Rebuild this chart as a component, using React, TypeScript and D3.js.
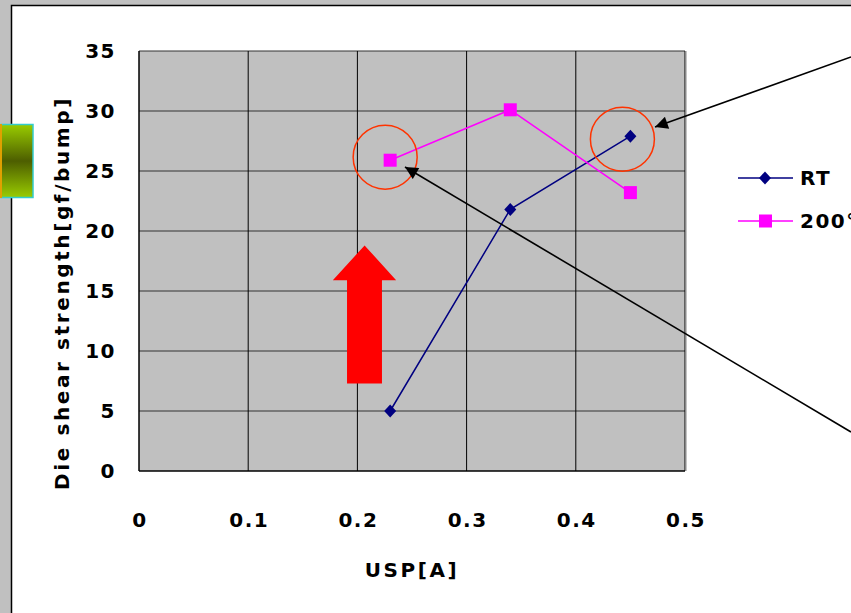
import * as d3 from "d3";
import React from "react";

const usp = [0.23, 0.34, 0.45];
const rtValues = [5, 21.8, 27.9];
const hotValues = [25.9, 30.1, 23.2];
const xTicks = [0, 0.1, 0.2, 0.3, 0.4, 0.5];
const yTicks = [0, 5, 10, 15, 20, 25, 30, 35];
const seriesNames = ["RT", "200℃"];

const W = 851;
const H = 613;
const FONT = "'DejaVu Sans', Verdana, sans-serif";

export default function App() {
  const x = d3.scaleLinear().domain([0, 0.5]).range([139, 685]);
  const y = d3.scaleLinear().domain([0, 35]).range([471, 51]);

  const rt = usp.map((u, i) => [u, rtValues[i]] as [number, number]);
  const hot = usp.map((u, i) => [u, hotValues[i]] as [number, number]);
  const line = d3.line<[number, number]>().x(d => x(d[0])).y(d => y(d[1]));

  const diamond = "M0,-6.5 L6,0 L0,6.5 L-6,0 Z";

  // callouts pointing at the circled points
  const circled = [
    {cx: x(usp[0]) - 5, cy: y(hotValues[0]) - 3, from: [851, 432], to: [405, 167]},
    {cx: x(usp[2]) - 8, cy: y(rtValues[2]) + 3, from: [851, 57], to: [655, 127]},
  ];

  const txt = {fontFamily: FONT, fontWeight: "bold" as const, fontSize: 20, letterSpacing: 1.5};
  const title = {...txt, letterSpacing: 2.6};

  return (
    <svg width={W} height={H} style={{position: "absolute", left: 0, top: 0}}>
      <defs>
        <linearGradient id="grn" x1="0" y1="0" x2="0" y2="1">
          <stop offset="0" stopColor="#99cc00" />
          <stop offset="0.5" stopColor="#4d5e00" />
          <stop offset="1" stopColor="#99cc00" />
        </linearGradient>
        <marker id="ah" viewBox="0 0 10 10" refX="10" refY="5" markerWidth="9" markerHeight="8" orient="auto">
          <path d="M0,0 L10,5 L0,10 z" fill="#000" />
        </marker>
      </defs>
      <rect x={0} y={0} width={W} height={H} fill="#c0c0c0" />
      <rect x={11.5} y={5.5} width={W + 10} height={H + 10} fill="#fff" stroke="#000" strokeWidth={1.5} />
      <rect x={1} y={124.5} width={32} height={73} fill="url(#grn)" stroke="#33cccc" strokeWidth={1.5} />
      <rect x={0} y={124} width={2} height={74} fill="#e0a000" />

      <rect x={x(0)} y={y(35)} width={x(0.5) - x(0)} height={y(0) - y(35)} fill="#c0c0c0" />
      {yTicks.slice(1).map(t => (
        <line key={"gy" + t} x1={x(0)} x2={x(0.5)} y1={y(t)} y2={y(t)} stroke="#333" strokeWidth={1} />
      ))}
      {xTicks.slice(1).map(t => (
        <line key={"gx" + t} x1={x(t)} x2={x(t)} y1={y(0)} y2={y(35)} stroke="#000" strokeWidth={1} />
      ))}
      <line x1={x(0)} x2={x(0)} y1={y(0)} y2={y(35)} stroke="#000" strokeWidth={1.5} />
      <line x1={x(0)} x2={x(0.5)} y1={y(0)} y2={y(0)} stroke="#000" strokeWidth={1.5} />
      <rect x={x(0.5)} y={y(35)} width={1.5} height={y(0) - y(35)} fill="#888" />

      {yTicks.map(t => (
        <text key={"ty" + t} x={116} y={y(t) + 7} textAnchor="end" {...txt}>{t}</text>
      ))}
      {xTicks.map(t => (
        <text key={"tx" + t} x={x(t) + 1} y={527} textAnchor="middle" {...txt}>{t}</text>
      ))}
      <text x={412} y={577} textAnchor="middle" {...title}>USP[A]</text>
      <text transform={`translate(69,293) rotate(-90)`} textAnchor="middle" {...title}>Die shear strength[gf/bump]</text>

      {/* red block arrow */}
      <path d={`M${x(0.2066)},${y(18.8)} L${x(0.1775)},${y(15.9)} L${x(0.1905)},${y(15.9)} L${x(0.1905)},${y(7.3)} L${x(0.2225)},${y(7.3)} L${x(0.2225)},${y(15.9)} L${x(0.2355)},${y(15.9)} Z`} fill="#ff0000" />

      <path d={line(rt)!} fill="none" stroke="#000080" strokeWidth={1.5} />
      <path d={line(hot)!} fill="none" stroke="#ff00ff" strokeWidth={1.5} />
      {rt.map((d, i) => (
        <path key={"rt" + i} d={diamond} transform={`translate(${x(d[0])},${y(d[1])})`} fill="#000080" />
      ))}
      {hot.map((d, i) => (
        <rect key={"h" + i} x={x(d[0]) - 6.5} y={y(d[1]) - 6.5} width={13} height={13} fill="#ff00ff" />
      ))}

      {circled.map((c, i) => (
        <g key={"c" + i}>
          <circle cx={c.cx} cy={c.cy} r={32} fill="none" stroke="#ff3300" strokeWidth={1.5} />
          <line x1={c.from[0]} y1={c.from[1]} x2={c.to[0]} y2={c.to[1]} stroke="#000" strokeWidth={1.6} markerEnd="url(#ah)" />
        </g>
      ))}

      {seriesNames.map((s, i) => (
        <g key={s} transform={`translate(738,${178 + i * 43})`}>
          <line x1={0} x2={55} y1={0} y2={0} stroke={i === 0 ? "#000080" : "#ff00ff"} strokeWidth={1.5} />
          {i === 0
            ? <path d={diamond} transform="translate(27,0)" fill="#000080" />
            : <rect x={21} y={-6.5} width={13} height={13} fill="#ff00ff" />}
          <text x={62} y={7} {...txt}>{s}</text>
        </g>
      ))}
    </svg>
  );
}
